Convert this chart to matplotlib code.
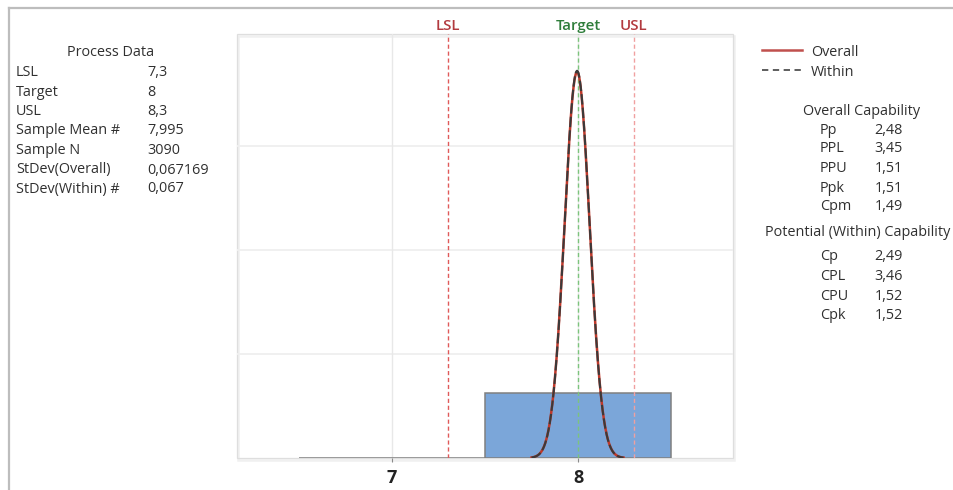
import numpy as np
import matplotlib
matplotlib.use("Agg")
import matplotlib.pyplot as plt
from matplotlib.patches import Rectangle
from matplotlib.lines import Line2D

# ---------------- data ----------------
process_labels = ["LSL", "Target", "USL", "Sample Mean #", "Sample N",
                  "StDev(Overall)", "StDev(Within) #"]
process_values = ["7,3", "8", "8,3", "7,995", "3090", "0,067169", "0,067"]

overall_labels = ["Pp", "PPL", "PPU", "Ppk", "Cpm"]
overall_values = ["2,48", "3,45", "1,51", "1,51", "1,49"]
within_labels = ["Cp", "CPL", "CPU", "Cpk"]
within_values = ["2,49", "3,46", "1,52", "1,52"]

lsl, target, usl = 7.3, 8.0, 8.3
sample_mean = 7.995
sd_overall = 0.067169
sd_within = 0.067

bin_edges = [6.5, 7.5, 8.5]
bin_density = [0.0, 1.0]

x_ticks = [7, 8]
x_tick_labels = ["7", "8"]
y_grid = [1.6, 3.2, 4.8]

# ---------------- figure ----------------
FONT = ["Open Sans", "DejaVu Sans"]
plt.rcParams["font.family"] = FONT
TXT = "#303030"

fig = plt.figure(figsize=(9.54, 4.90), dpi=100)
W, H = 954, 490
DY = 2  # vertical text offset (px)

def fx(px):
    return px / W

def fy(py):
    return 1 - py / H

def ty(py):
    return fy(py + DY)

# outer frame (top and left edges visible)
fig.add_artist(Line2D([fx(9.5), 1], [fy(8.5), fy(8.5)], color="#bdbdbd", lw=1.6))
fig.add_artist(Line2D([fx(9.5), fx(9.5)], [fy(8.5), 0], color="#bdbdbd", lw=1.6))

ax = fig.add_axes([fx(237), fy(458), (733 - 237) / W, (458 - 34) / H])
ax.set_xlim(6.167, 8.833)
ax.set_ylim(0, 6.52)
for s in ax.spines.values():
    s.set_visible(False)

# frame with soft shadow
ax.add_patch(Rectangle((0.003, -0.005), 1, 1, transform=ax.transAxes, fill=False,
                       edgecolor="#f0f0f0", lw=1.8, clip_on=False, zorder=0))
ax.add_patch(Rectangle((0, 0), 1, 1, transform=ax.transAxes, fill=False,
                       edgecolor="#dedede", lw=0.9, clip_on=False, zorder=0.5))

# gridlines
for g in y_grid:
    ax.axhline(g, color="#f0f0f0", lw=1.4, zorder=0.6)
for t in x_ticks:
    ax.axvline(t, color="#e8e8e8", lw=1.0, zorder=0.6)

# histogram
lefts = bin_edges[:-1]
widths = np.diff(bin_edges)
ax.bar(lefts, bin_density, width=widths, align="edge", color="#7ba6d9",
       edgecolor="#808080", lw=1.1, zorder=2)

# spec lines
ax.axvline(lsl, color="#e05a5a", lw=1.0, ls=(0, (3, 2)), zorder=3)
ax.axvline(usl, color="#f0a0a0", lw=1.0, ls=(0, (3, 2)), zorder=3)
ax.axvline(target, color="#7cc47c", lw=1.0, ls=(0, (3, 2)), zorder=3)

# normal curves
xs = np.linspace(7.75, 8.245, 400)
def npdf(x, m, s):
    return np.exp(-0.5 * ((x - m) / s) ** 2) / (s * np.sqrt(2 * np.pi))
ax.plot(xs, npdf(xs, sample_mean, sd_overall), color="#c0392b", lw=1.8, zorder=4)
ax.plot(xs, npdf(xs, sample_mean, sd_within), color="#3a3a3a", lw=1.5,
        ls=(0, (5, 1.5)), zorder=5)

# ticks
ax.set_yticks([])
ax.set_xticks(x_ticks)
ax.set_xticklabels(x_tick_labels, fontsize=13, fontweight="bold", color="#222222")
ax.tick_params(axis="x", length=3, color="#8a8a8a", pad=5)

# spec labels
for xv, lab, col in [(lsl, "LSL", "#b23a3f"), (target, "Target", "#2e7d3a"),
                     (usl, "USL", "#b23a3f")]:
    ax.text(xv, 1.002, lab, transform=ax.get_xaxis_transform(), ha="center",
            va="bottom", fontsize=10.8, fontweight="semibold", color=col)

# ---------------- left panel ----------------
fs = 10.4
fig.text(fx(111), ty(51), "Process Data", ha="center", va="center", fontsize=fs, color=TXT)
rows_y = [71, 90, 109, 129, 148, 168, 187]
for lab, val, yy in zip(process_labels, process_values, rows_y):
    fig.text(fx(16), ty(yy), lab, ha="left", va="center", fontsize=fs, color=TXT)
    fig.text(fx(147), ty(yy), val, ha="left", va="center", fontsize=fs, color=TXT)

# ---------------- right panel ----------------
fig.add_artist(Line2D([fx(762), fx(802)], [fy(50), fy(50)], color="#c0504d", lw=1.8))
fig.add_artist(Line2D([fx(762), fx(802)], [fy(70), fy(70)], color="#505050", lw=1.3,
                      ls=(0, (3.5, 2.5))))
fig.text(fx(811), ty(50), "Overall", ha="left", va="center", fontsize=fs, color=TXT)
fig.text(fx(811), ty(70), "Within", ha="left", va="center", fontsize=fs, color=TXT)

fig.text(fx(862), ty(109), "Overall Capability", ha="center", va="center", fontsize=fs, color=TXT)
for lab, val, yy in zip(overall_labels, overall_values, [128, 147, 166, 186, 205]):
    fig.text(fx(820), ty(yy), lab, ha="left", va="center", fontsize=fs, color=TXT)
    fig.text(fx(903), ty(yy), val, ha="right", va="center", fontsize=fs, color=TXT)

fig.text(fx(765), ty(231), "Potential (Within) Capability", ha="left", va="center",
         fontsize=fs, color=TXT)
for lab, val, yy in zip(within_labels, within_values, [255, 274, 294, 313]):
    fig.text(fx(820), ty(yy), lab, ha="left", va="center", fontsize=fs, color=TXT)
    fig.text(fx(903), ty(yy), val, ha="right", va="center", fontsize=fs, color=TXT)

fig.savefig("out.png", dpi=100, facecolor="white")
